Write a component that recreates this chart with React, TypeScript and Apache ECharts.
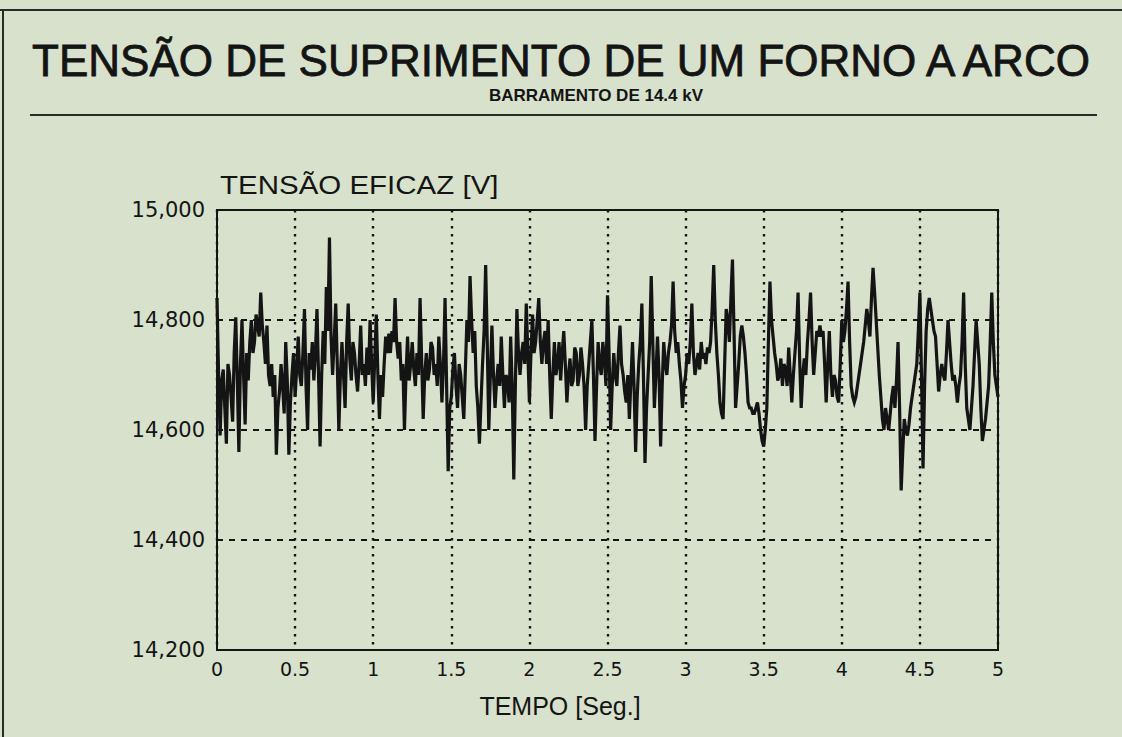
import React, { useEffect, useRef } from "react";
import * as echarts from "echarts";

const TITLE = "TENSÃO DE SUPRIMENTO DE UM FORNO A ARCO";
const SUBTITLE = "BARRAMENTO DE 14.4 kV";
const Y_NAME = "TENSÃO EFICAZ [V]";
const X_NAME = "TEMPO [Seg.]";

const X_MIN = 0;
const X_MAX = 5;
const X_STEP = 0.5;
const Y_MIN = 14200;
const Y_MAX = 15000;
const Y_STEP = 200;

// sampling step of the read-off values (seconds)
const SAMPLE_STEP = 0.01;

// RMS voltage [V], 0.00 s .. 0.80 s
const v0 = [
  14840, 14700, 14590, 14690, 14710, 14640, 14575, 14720, 14700, 14660,
  14615, 14740, 14805, 14690, 14560, 14720, 14800, 14700, 14610, 14740,
  14690, 14760, 14800, 14740, 14760, 14810, 14790, 14770, 14850, 14790,
  14760, 14720, 14790, 14700, 14680, 14720, 14660, 14700, 14555, 14640,
  14670, 14720, 14680, 14630, 14760, 14690, 14555, 14650, 14700, 14740,
  14660, 14710, 14770, 14700, 14680, 14740, 14820, 14680, 14600, 14740,
  14710, 14760, 14690, 14740, 14820, 14700, 14570, 14700, 14780, 14720,
  14860, 14780, 14950, 14770, 14700, 14760, 14830, 14720, 14600, 14700,
  14760,
];
// 0.81 s .. 1.64 s
const v1 = [
  14700, 14640, 14760, 14830, 14730, 14690, 14760, 14740, 14700, 14670,
  14720, 14790, 14700, 14720, 14680, 14750, 14700, 14800, 14720, 14650,
  14730, 14810, 14700, 14620, 14700, 14660, 14720, 14770, 14740, 14775,
  14740, 14780, 14760, 14840, 14760, 14730, 14760, 14690, 14720, 14600,
  14700, 14770, 14690, 14720, 14760, 14710, 14680, 14740, 14700, 14840,
  14730, 14620, 14700, 14740, 14690, 14710, 14760, 14750, 14700, 14720,
  14680, 14770, 14720, 14650, 14720, 14840, 14680, 14525, 14640, 14660,
  14710, 14740, 14680, 14640, 14720, 14700, 14660, 14620, 14710, 14800,
  14760, 14880, 14800, 14740,
];
// 1.65 s .. 2.46 s
const v2 = [
  14780, 14680, 14640, 14575, 14650, 14720, 14780, 14900, 14760, 14600,
  14700, 14790, 14700, 14640, 14690, 14720, 14680, 14770, 14700, 14640,
  14700, 14690, 14650, 14770, 14680, 14510, 14680, 14820, 14740, 14700,
  14740, 14760, 14720, 14830, 14740, 14650, 14740, 14810, 14740, 14760,
  14800, 14840, 14760, 14720, 14760, 14780, 14720, 14800, 14700, 14620,
  14700, 14760, 14700, 14720, 14760, 14690, 14740, 14780, 14720, 14650,
  14700, 14730, 14680, 14690, 14750, 14740, 14680, 14700, 14750, 14720,
  14680, 14600, 14680, 14720, 14760, 14800, 14700, 14580, 14680, 14760,
  14720, 14700,
];
// 2.47 s .. 3.30 s
const v3 = [
  14760, 14730, 14680, 14845, 14740, 14600, 14680, 14740, 14700, 14680,
  14740, 14790, 14720, 14700, 14670, 14650, 14700, 14620, 14690, 14760,
  14680, 14560, 14660, 14720, 14760, 14830, 14700, 14540, 14640, 14700,
  14760, 14880, 14760, 14640, 14700, 14770, 14700, 14570, 14680, 14760,
  14720, 14700, 14740, 14760, 14790, 14870, 14780, 14740, 14760, 14720,
  14690, 14640, 14680, 14700, 14740, 14720, 14760, 14830, 14740, 14700,
  14720, 14740, 14710, 14760, 14730, 14740, 14720, 14750, 14740, 14760,
  14820, 14900, 14800, 14740, 14700, 14650, 14630, 14620, 14720, 14820,
  14800, 14760, 14840, 14910,
];
// 3.31 s .. 4.12 s
const v4 = [
  14780, 14640, 14680, 14720, 14770, 14790, 14770, 14740, 14700, 14650,
  14640, 14640, 14630, 14630, 14640, 14650, 14630, 14600, 14580, 14570,
  14600, 14640, 14760, 14870, 14800, 14770, 14740, 14720, 14690, 14700,
  14730, 14680, 14720, 14710, 14680, 14750, 14700, 14650, 14700, 14740,
  14780, 14850, 14730, 14640, 14700, 14730, 14700, 14760, 14800, 14850,
  14760, 14700, 14740, 14780, 14770, 14790, 14770, 14780, 14720, 14650,
  14720, 14780, 14700, 14660, 14700, 14690, 14660, 14650, 14720, 14800,
  14760, 14780, 14820, 14870, 14760, 14680, 14660, 14650, 14660, 14680,
  14700, 14720,
];
// 4.13 s .. 5.00 s
const v5 = [
  14740, 14760, 14790, 14820, 14800, 14770, 14840, 14895, 14850, 14800,
  14750, 14700, 14660, 14620, 14600, 14640, 14620, 14600, 14630, 14660,
  14680, 14640, 14690, 14760, 14640, 14490, 14560, 14620, 14600, 14590,
  14610, 14640, 14660, 14680, 14700, 14720, 14780, 14850, 14700, 14530,
  14680, 14780, 14820, 14840, 14820, 14800, 14780, 14770, 14720, 14670,
  14700, 14720, 14700, 14690, 14740, 14800, 14760, 14720, 14690, 14700,
  14680, 14650, 14680, 14700, 14760, 14850, 14720, 14640, 14620, 14600,
  14640, 14680, 14740, 14800, 14760, 14720, 14640, 14580, 14600, 14620,
  14650, 14680, 14760, 14850, 14760, 14700, 14680, 14660,
];

const VOLTAGE = [...v0, ...v1, ...v2, ...v3, ...v4, ...v5];

const PAPER = "#d7e1cc";
const INK = "#141414";
const FONT = "'Liberation Sans', Arial, Helvetica, sans-serif";
const TICK_FONT = "'DejaVu Sans', 'Liberation Sans', sans-serif";

function withComma(v: number): string {
  return String(v).replace(/\B(?=(\d{3})+(?!\d))/g, ",");
}

export default function App() {
  const ref = useRef<HTMLDivElement>(null);

  useEffect(() => {
    document.body.style.margin = "0";
    document.body.style.background = PAPER;
    if (!ref.current) return;
    const chart = echarts.init(ref.current, undefined, { renderer: "svg" });

    const data = VOLTAGE.map((v, i) => [
      Math.round(i * SAMPLE_STEP * 1000) / 1000,
      v,
    ]);

    chart.setOption({
      animation: false,
      backgroundColor: PAPER,
      grid: {
        left: 217,
        top: 210,
        right: 124,
        bottom: 87,
        show: true,
        borderColor: INK,
        borderWidth: 2,
        backgroundColor: "transparent",
      },
      xAxis: {
        type: "value",
        min: X_MIN,
        max: X_MAX,
        interval: X_STEP,
        axisLine: { show: false },
        axisTick: { show: false },
        axisLabel: {
          color: INK,
          fontFamily: TICK_FONT,
          fontSize: 19,
          margin: 9,
          formatter: (v: number) => String(v),
        },
        splitLine: {
          show: true,
          lineStyle: { color: INK, width: 2.4, type: [2.5, 5.5] },
        },
      },
      yAxis: {
        type: "value",
        min: Y_MIN,
        max: Y_MAX,
        interval: Y_STEP,
        axisLine: { show: false },
        axisTick: { show: false },
        axisLabel: {
          color: INK,
          fontFamily: TICK_FONT,
          fontSize: 21,
          margin: 12,
          formatter: (v: number) => withComma(v),
        },
        splitLine: {
          show: true,
          lineStyle: { color: INK, width: 2, type: [6, 6] },
        },
      },
      series: [
        {
          type: "line",
          data,
          showSymbol: false,
          symbol: "none",
          lineStyle: { color: INK, width: 3.2, join: "miter" },
          z: 5,
        },
      ],
      graphic: [
        {
          type: "line",
          shape: { x1: 0, y1: 10, x2: 1122, y2: 10 },
          style: { stroke: "#2a2a2a", lineWidth: 2 },
        },
        {
          type: "line",
          shape: { x1: 3, y1: 10, x2: 3, y2: 737 },
          style: { stroke: "#2a2a2a", lineWidth: 2 },
        },
        {
          type: "line",
          shape: { x1: 30, y1: 115, x2: 1097, y2: 115 },
          style: { stroke: "#2a2a2a", lineWidth: 2 },
        },
        {
          type: "text",
          x: 561,
          y: 60,
          style: {
            text: TITLE,
            fill: INK,
            stroke: INK,
            lineWidth: 0.8,
            font: `44px ${FONT}`,
            textAlign: "center",
            textVerticalAlign: "middle",
          },
        },
        {
          type: "text",
          x: 596,
          y: 95,
          style: {
            text: SUBTITLE,
            fill: INK,
            font: `bold 17px ${FONT}`,
            textAlign: "center",
            textVerticalAlign: "middle",
          },
        },
        {
          type: "text",
          x: 220,
          y: 185,
          scaleX: 1.18,
          style: {
            text: Y_NAME,
            fill: INK,
            font: `25px ${FONT}`,
            textAlign: "left",
            textVerticalAlign: "middle",
          },
        },
        {
          type: "text",
          x: 560,
          y: 706,
          style: {
            text: X_NAME,
            fill: INK,
            font: `25px ${FONT}`,
            textAlign: "center",
            textVerticalAlign: "middle",
          },
        },
      ],
    });

    return () => chart.dispose();
  }, []);

  return <div ref={ref} style={{ width: 1122, height: 737 }} />;
}
